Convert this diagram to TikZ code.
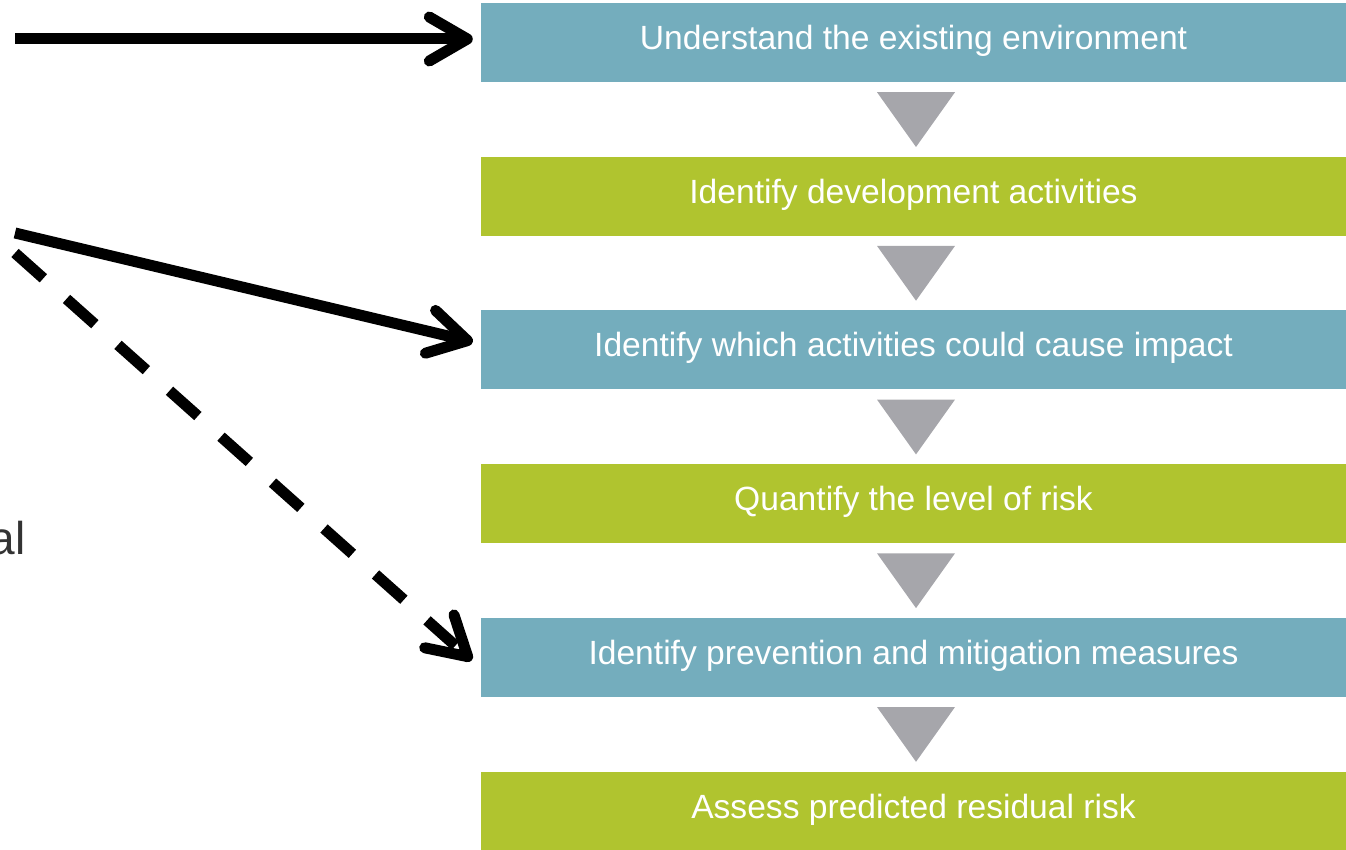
\documentclass[tikz,border=0pt]{standalone}
\usepackage{fontspec}
\setmainfont{Liberation Sans}
\usetikzlibrary{arrows.meta,calc}
\definecolor{boxblue}{HTML}{74ADBD}
\definecolor{boxgreen}{HTML}{B0C42F}
\definecolor{trigray}{HTML}{A6A6AB}
\definecolor{labelgray}{HTML}{333333}
\begin{document}
\begin{tikzpicture}[x=1pt,y=-1pt,
  stepbox/.style={rectangle, minimum width=865pt, minimum height=79pt, inner sep=0pt,
    text=white, font=\fontsize{33.6}{40}\selectfont, text height=24pt, text depth=10pt},
  bluebox/.style={stepbox, fill=boxblue},
  greenbox/.style={stepbox, fill=boxgreen},
  flowtri/.style={fill=trigray},
  bigarrow/.style={line width=11pt, -{Straight Barb[length=38pt,width=44pt,round]}},
  dasharrow/.style={bigarrow, dash pattern=on 38pt off 31pt},
]
\useasboundingbox (0,0) rectangle (1346,850);

\node[bluebox]  (b1) at (913.5,42.5)  {Understand the existing environment};
\node[greenbox] (b2) at (913.5,196.2) {Identify development activities};
\node[bluebox]  (b3) at (913.5,349.9) {Identify which activities could cause impact};
\node[greenbox] (b4) at (913.5,503.6) {Quantify the level of risk};
\node[bluebox]  (b5) at (913.5,657.3) {Identify prevention and mitigation measures};
\node[greenbox] (b6) at (913.5,811)   {Assess predicted residual risk};

\foreach \a/\b in {b1/b2,b2/b3,b3/b4,b4/b5,b5/b6}{
  \fill[flowtri] ($(\a.south)+(-36.5,10)$) -- ($(\a.south)+(41.5,10)$) -- ($(\b.north)+(2.5,-9.5)$) -- cycle;
}

\node[anchor=base east, font=\fontsize{46}{50}\selectfont, text=labelgray, inner sep=0pt] (cut) at (26,554) {al};

\coordinate (s1) at (15,39);
\coordinate (s2) at (15,233);
\coordinate (s3) at (15,253);

\draw[bigarrow] (s1) -- ($(b1.west)+(-8,-3.5)$);
\draw[bigarrow] (s2) -- ($(b3.west)+(-8,-8)$);
\draw[dasharrow] (s3) -- ($(b5.west)+(-9,3)$);
\end{tikzpicture}
\end{document}
